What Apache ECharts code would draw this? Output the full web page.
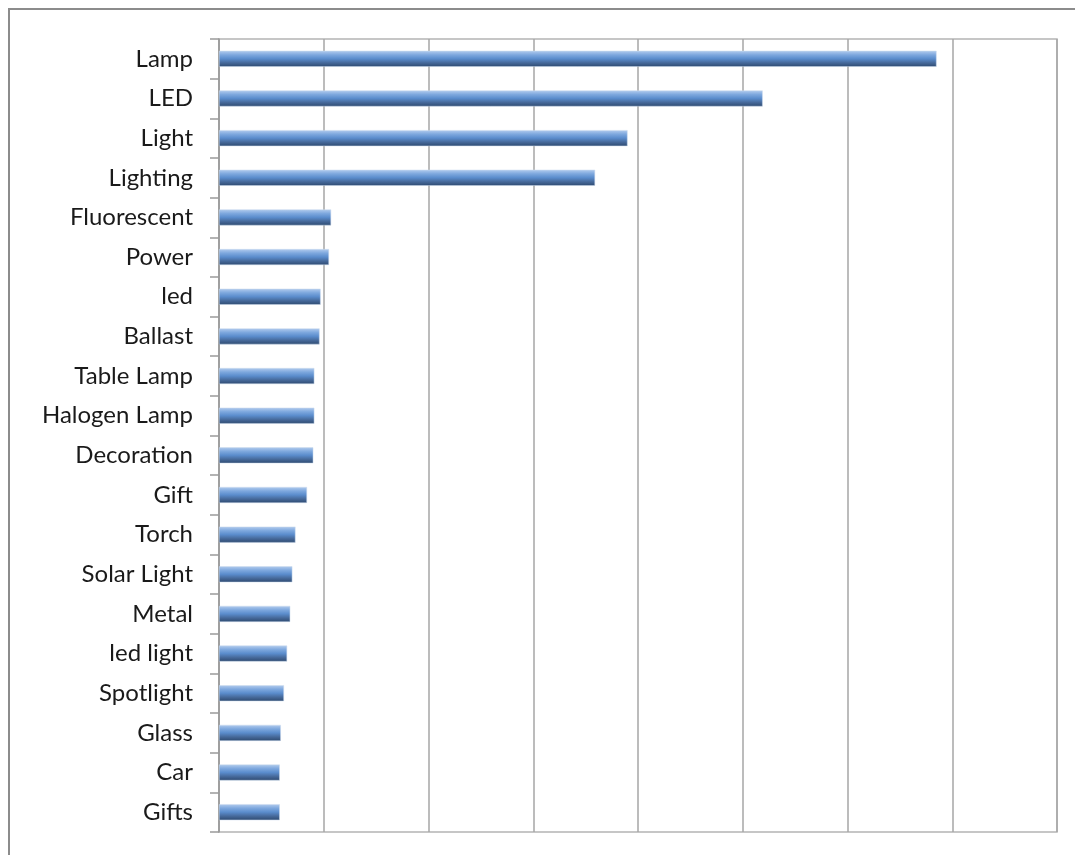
<!DOCTYPE html>
<html>
<head>
<meta charset="utf-8">
<script src="https://cdn.jsdelivr.net/npm/echarts@6/dist/echarts.min.js"></script>
<style>
html,body{margin:0;padding:0;background:#fff;}
#chart{width:1075px;height:855px;}
</style>
</head>
<body>
<div id="chart"></div>
<script>
const categories = ["Lamp","LED","Light","Lighting","Fluorescent","Power","led","Ballast","Table Lamp","Halogen Lamp","Decoration","Gift","Torch","Solar Light","Metal","led light","Spotlight","Glass","Car","Gifts"];
const values = [685, 519, 390, 359, 107, 105, 97, 96, 91, 91, 90, 84, 73, 70, 68, 65, 62, 59, 58, 58];
const axisMax = 800;
const axisInterval = 100;

const chart = echarts.init(document.getElementById('chart'));
chart.setOption({
  animation: false,
  backgroundColor: '#fff',
  graphic: [{
    type: 'rect',
    shape: {x: 9, y: 9, width: 1080, height: 860},
    style: {fill: 'none', stroke: '#8c8c8c', lineWidth: 2},
    silent: true
  }],
  grid: {
    left: 219, top: 39, right: 18, bottom: 23,
    show: true, borderColor: '#b4b4b4', borderWidth: 1.5
  },
  xAxis: {
    type: 'value', min: 0, max: axisMax, interval: axisInterval,
    axisLabel: {show: false},
    axisLine: {show: false},
    axisTick: {show: false},
    splitLine: {show: true, lineStyle: {color: '#a6a6a6', width: 1.5}}
  },
  yAxis: {
    type: 'category', data: categories, inverse: true,
    axisLine: {show: true, lineStyle: {color: '#9a9a9a', width: 1.5}},
    axisTick: {show: true, length: 9, lineStyle: {color: '#9a9a9a', width: 1.5}},
    axisLabel: {fontFamily: 'Lato', fontSize: 24, color: '#1a1a1a', margin: 26}
  },
  series: [{
    type: 'bar',
    data: values,
    barWidth: 16,
    itemStyle: {
      color: new echarts.graphic.LinearGradient(0, 0, 0, 1, [
        {offset: 0, color: '#b3ccee'},
        {offset: 0.25, color: '#7ea8de'},
        {offset: 0.5, color: '#5a8ccc'},
        {offset: 0.75, color: '#46699a'},
        {offset: 1, color: '#2e4a70'}
      ]),
      borderColor: '#c9d8ec',
      borderWidth: 0.5
    }
  }]
});
</script>
</body>
</html>
